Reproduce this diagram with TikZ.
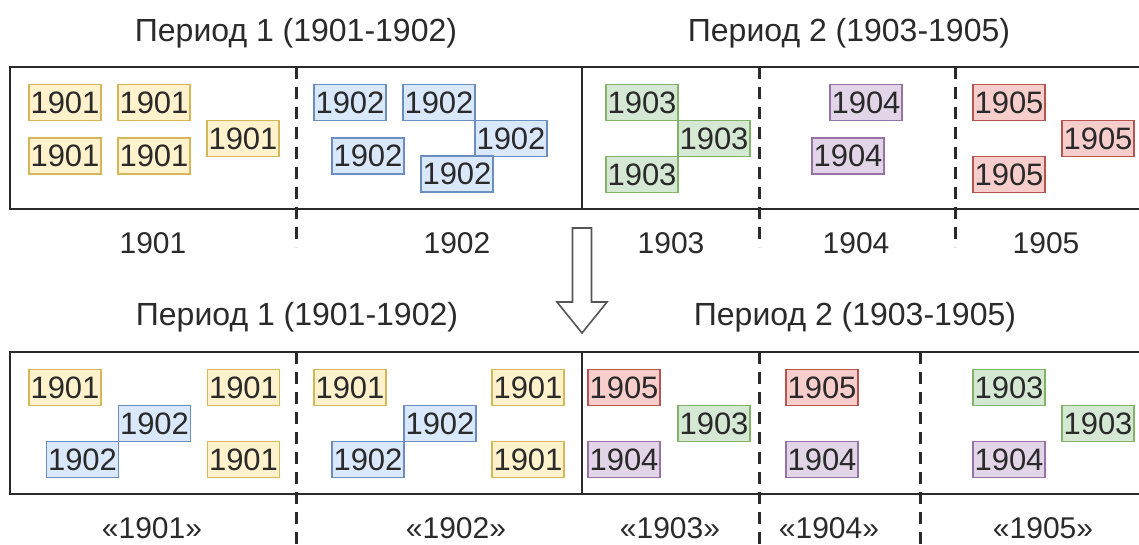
\documentclass[tikz,border=0pt]{standalone}
\usepackage{fontspec}
\setmainfont{Liberation Sans}
\definecolor{yfill}{HTML}{FFF2CC}\definecolor{ydraw}{HTML}{D6B656}
\definecolor{bfill}{HTML}{DAE8FC}\definecolor{bdraw}{HTML}{6C8EBF}
\definecolor{gfill}{HTML}{D5E8D4}\definecolor{gdraw}{HTML}{82B366}
\definecolor{pfill}{HTML}{E1D5E7}\definecolor{pdraw}{HTML}{9673A6}
\definecolor{rfill}{HTML}{F8CECC}\definecolor{rdraw}{HTML}{B85450}
\definecolor{txt}{HTML}{2A2A2A}
\definecolor{arrowgray}{HTML}{555555}
\begin{document}
\begin{tikzpicture}[x=1pt,y=-1pt,
  yearbox/.style={rectangle, minimum width=72pt, minimum height=36pt, inner sep=0pt,
    line width=1.2pt, font=\fontsize{31}{36}\selectfont, text=txt},
  Y/.style={yearbox, draw=ydraw, fill=yfill},
  B/.style={yearbox, draw=bdraw, fill=bfill},
  G/.style={yearbox, draw=gdraw, fill=gfill},
  P/.style={yearbox, draw=pdraw, fill=pfill},
  R/.style={yearbox, draw=rdraw, fill=rfill},
  lbl/.style={font=\fontsize{30}{36}\selectfont, text=txt, inner sep=0pt},
  ttl/.style={font=\fontsize{32}{38}\selectfont, text=txt, inner sep=0pt},
  frame/.style={draw=txt, line width=2pt},
  divider/.style={draw=txt, line width=3pt, dash pattern=on 12pt off 8pt},
  bigarrow/.style={draw=arrowgray, line width=1.6pt, fill=white}]
\clip (0,0) rectangle (1139,544);

% ---------- top ----------
\node[ttl] (t1) at (296,33) {Период 1 (1901-1902)};
\node[ttl] (t2) at (849,33) {Период 2 (1903-1905)};
\draw[frame] (10,67) rectangle (1160,209);
\draw[frame] (581.5,67) -- (581.5,209);
\draw[divider] (296,67) -- (296,247);
\draw[divider] (759,67) -- (759,247);
\draw[divider] (955,67) -- (955,247);

\node[Y] (ta1) at (65,102.5) {1901};
\node[Y] (ta2) at (154,102.5) {1901};
\node[Y] (ta3) at (243,138.5) {1901};
\node[Y] (ta4) at (65,156) {1901};
\node[Y] (ta5) at (154,156) {1901};

\node[B] (tb1) at (350,102.5) {1902};
\node[B] (tb2) at (439,102.5) {1902};
\node[B] (tb3) at (511,138.5) {1902};
\node[B] (tb4) at (368,156) {1902};
\node[B] (tb5) at (457,174) {1902};

\node[G] (tc1) at (642,102.5) {1903};
\node[G] (tc2) at (714,138.5) {1903};
\node[G] (tc3) at (642,174.5) {1903};

\node[P] (td1) at (866,102.5) {1904};
\node[P] (td2) at (848,156) {1904};

\node[R] (te1) at (1009,102.5) {1905};
\node[R] (te2) at (1098,138.5) {1905};
\node[R] (te3) at (1009,174.5) {1905};

\node[lbl] (ly1) at (153,243) {1901};
\node[lbl] (ly2) at (457,243) {1902};
\node[lbl] (ly3) at (671,243) {1903};
\node[lbl] (ly4) at (856,243) {1904};
\node[lbl] (ly5) at (1046,243) {1905};

% ---------- arrow ----------
\draw[bigarrow] (572.5,228) -- (591.5,228) -- (591.5,302) -- (607,302)
  -- (582,333) -- (557,302) -- (572.5,302) -- cycle;

% ---------- bottom ----------
\node[ttl] (b1) at (297,317) {Период 1 (1901-1902)};
\node[ttl] (b2) at (855,317) {Период 2 (1903-1905)};
\draw[frame] (10,352) rectangle (1160,494);
\draw[frame] (581.5,352) -- (581.5,494);
\draw[divider] (296,352) -- (296,548);
\draw[divider] (759,352) -- (759,548);
\draw[divider] (920,352) -- (920,548);

\node[Y] (ba1) at (65,387.5) {1901};
\node[Y] (ba2) at (243.5,387.5) {1901};
\node[B] (ba3) at (154.5,423.5) {1902};
\node[B] (ba4) at (82.5,459.5) {1902};
\node[Y] (ba5) at (243.5,459.5) {1901};

\node[Y] (bb1) at (350,387.5) {1901};
\node[Y] (bb2) at (528,387.5) {1901};
\node[B] (bb3) at (440,423.5) {1902};
\node[B] (bb4) at (368,459.5) {1902};
\node[Y] (bb5) at (528,459.5) {1901};

\node[R] (bc1) at (624,387.5) {1905};
\node[G] (bc2) at (714,423.5) {1903};
\node[P] (bc3) at (624,459.5) {1904};

\node[R] (bd1) at (822,387.5) {1905};
\node[P] (bd2) at (822,459.5) {1904};

\node[G] (be1) at (1009,387.5) {1903};
\node[G] (be2) at (1098,423.5) {1903};
\node[P] (be3) at (1009,459.5) {1904};

\node[lbl] (lq1) at (152,528) {«1901»};
\node[lbl] (lq2) at (456,528) {«1902»};
\node[lbl] (lq3) at (670,528) {«1903»};
\node[lbl] (lq4) at (829,528) {«1904»};
\node[lbl] (lq5) at (1043,528) {«1905»};
\end{tikzpicture}
\end{document}
